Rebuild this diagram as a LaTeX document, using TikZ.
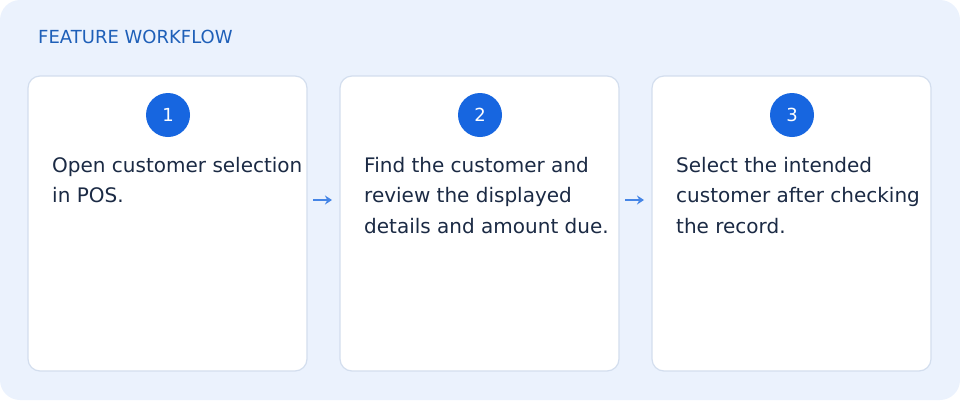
\documentclass[tikz,border=0pt]{standalone}
\usepackage{fontspec}
\setmainfont{DejaVu Sans}
\usetikzlibrary{arrows.meta}
\definecolor{panel}{HTML}{EBF2FD}
\definecolor{cardline}{HTML}{D3DEEE}
\definecolor{blue1}{HTML}{1766E0}
\definecolor{titleblue}{HTML}{1E5FB8}
\definecolor{txt}{HTML}{1B2A44}
\begin{document}
\begin{tikzpicture}[x=1pt,y=-1pt,
  card/.style={draw=cardline,line width=1.2pt,fill=white,rounded corners=12pt},
  num/.style={circle,fill=blue1,minimum size=44pt,inner sep=0pt,text=white,font=\fontsize{18}{18}\selectfont},
  body/.style={anchor=north west,align=left,text=txt,font=\fontsize{20}{30.5}\selectfont,inner sep=0pt},
  arr/.style={-{Stealth[length=7pt,width=9pt]},draw=blue1!80,line width=1.4pt}]
\useasboundingbox (0,0) rectangle (960,400);
\fill[panel,rounded corners=20pt] (0,0) rectangle (960,400);
\node[anchor=west,text=titleblue,font=\fontsize{18}{18}\selectfont,inner sep=0pt] (title) at (38,37) {FEATURE WORKFLOW};
\foreach \i/\x in {1/28,2/340,3/652}{
  \draw[card] (\x,76) rectangle (\x+279,371);
  \node[num] (n\i) at (\x+140,115) {\i};
}
\node[body] (t1) at (52,157) {Open customer selection\\in POS.};
\node[body] (t2) at (364,157) {Find the customer and\\review the displayed\\details and amount due.};
\node[body] (t3) at (676,157) {Select the intended\\customer after checking\\the record.};
\coordinate (a1s) at (313,200); \coordinate (a1e) at (332,200);
\coordinate (a2s) at (625,200); \coordinate (a2e) at (644,200);
\draw[arr] (a1s) -- (a1e);
\draw[arr] (a2s) -- (a2e);
\end{tikzpicture}
\end{document}
